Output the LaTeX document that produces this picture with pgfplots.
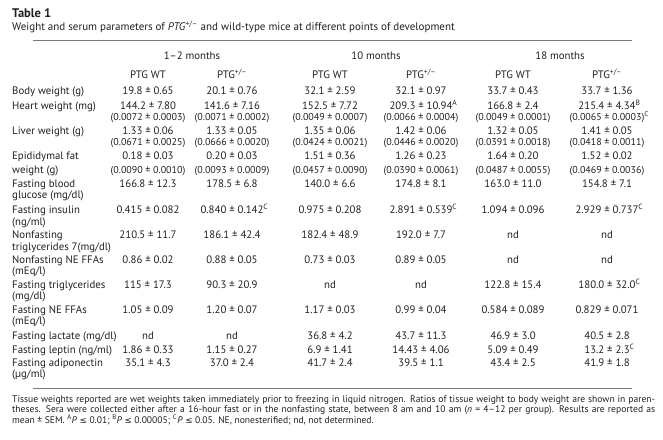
\documentclass[border=0pt]{standalone}
\usepackage{pgfplots}
\pgfplotsset{compat=1.18}
\usepackage{fontspec}
\setmainfont{PT Sans}
\newfontfamily\symf{DejaVu Sans}
\definecolor{txt}{HTML}{231F20}
\definecolor{rule}{HTML}{7A7A7A}
\newcommand\sym[1]{{\symf\fontsize{8.6}{9}\selectfont #1}}
\newcommand\supm[1]{\rlap{\textsuperscript{#1}}}
\newcommand\lab[2]{\node[anchor=mid west] at (axis cs:12,#1) {#2};}
\newcommand\row[7]{%
  \node[anchor=mid] at (axis cs:148,#1) {#2};
  \node[anchor=mid] at (axis cs:232,#1) {#3};
  \node[anchor=mid] at (axis cs:330,#1) {#4};
  \node[anchor=mid] at (axis cs:421,#1) {#5};
  \node[anchor=mid] at (axis cs:513,#1) {#6};
  \node[anchor=mid] at (axis cs:607,#1) {#7};}
\newcommand\prow[7]{%
  \node[anchor=mid,font=\fontsize{10}{11}\selectfont] at (axis cs:148,#1) {#2};
  \node[anchor=mid,font=\fontsize{10}{11}\selectfont] at (axis cs:232,#1) {#3};
  \node[anchor=mid,font=\fontsize{10}{11}\selectfont] at (axis cs:330,#1) {#4};
  \node[anchor=mid,font=\fontsize{10}{11}\selectfont] at (axis cs:421,#1) {#5};
  \node[anchor=mid,font=\fontsize{10}{11}\selectfont] at (axis cs:513,#1) {#6};
  \node[anchor=mid,font=\fontsize{10}{11}\selectfont] at (axis cs:607,#1) {#7};}
\begin{document}
\begin{tikzpicture}[every node/.style={inner sep=0pt,text=txt,font=\fontsize{10.8}{11}\selectfont}]
\begin{axis}[width=663pt,height=439pt,scale only axis,xmin=0,xmax=663,ymin=0,ymax=439,
  y dir=reverse,hide axis,clip=false]
\path (axis cs:0,0) rectangle (axis cs:663,439);
\node[anchor=mid west,font=\fontsize{12.5}{13}\selectfont\bfseries] at (axis cs:12,15) {Table 1};
\node[anchor=mid west,font=\fontsize{11}{12}\selectfont] at (axis cs:12,28) {Weight and serum parameters of \textit{PTG}\textsuperscript{+/–} and wild-type mice at different points of development};
\draw[rule,line width=1pt] (axis cs:33,40) -- (axis cs:632,40);
\draw[rule,line width=1pt] (axis cs:33,388) -- (axis cs:632,388);
% headers
\node[anchor=mid] at (axis cs:192,57) {1–2 months};
\node[anchor=mid] at (axis cs:376,57) {10 months};
\node[anchor=mid] at (axis cs:560,57) {18 months};
\row{76}{PTG WT}{PTG\textsuperscript{+/–}}{PTG WT}{PTG\textsuperscript{+/–}}{PTG WT}{PTG\textsuperscript{+/–}}
% rows
\lab{92}{Body weight (g)}
\row{92}{19.8 ± 0.65}{20.1 ± 0.76}{32.1 ± 2.59}{32.1 ± 0.97}{33.7 ± 0.43}{33.7 ± 1.36}
\lab{107}{Heart weight (mg)}
\row{107}{144.2 ± 7.80}{141.6 ± 7.16}{152.5 ± 7.72}{209.3 ± 10.94\supm{A}}{166.8 ± 2.4}{215.4 ± 4.34\supm{B}}
\prow{118}{(0.0072 ± 0.0003)}{(0.0071 ± 0.0002)}{(0.0049 ± 0.0007)}{(0.0066 ± 0.0004)}{(0.0049 ± 0.0001)}{(0.0065 ± 0.0003)\supm{C}}
\lab{132}{Liver weight (g)}
\row{132}{1.33 ± 0.06}{1.33 ± 0.05}{1.35 ± 0.06}{1.42 ± 0.06}{1.32 ± 0.05}{1.41 ± 0.05}
\prow{143}{(0.0671 ± 0.0025)}{(0.0666 ± 0.0020)}{(0.0424 ± 0.0021)}{(0.0446 ± 0.0020)}{(0.0391 ± 0.0018)}{(0.0418 ± 0.0011)}
\lab{157}{Epididymal fat}
\lab{171}{weight (g)}
\row{157}{0.18 ± 0.03}{0.20 ± 0.03}{1.51 ± 0.36}{1.26 ± 0.23}{1.64 ± 0.20}{1.52 ± 0.02}
\prow{171}{(0.0090 ± 0.0010)}{(0.0093 ± 0.0009)}{(0.0457 ± 0.0090)}{(0.0390 ± 0.0061)}{(0.0487 ± 0.0055)}{(0.0469 ± 0.0036)}
\lab{184.5}{Fasting blood}
\lab{196}{glucose (mg/dl)}
\row{184.5}{166.8 ± 12.3}{178.5 ± 6.8}{140.0 ± 6.6}{174.8 ± 8.1}{163.0 ± 11.0}{154.8 ± 7.1}
\lab{211}{Fasting insulin}
\lab{222.5}{(ng/ml)}
\row{211}{0.415 ± 0.082}{0.840 ± 0.142\supm{C}}{0.975 ± 0.208}{2.891 ± 0.539\supm{C}}{1.094 ± 0.096}{2.929 ± 0.737\supm{C}}
\lab{236}{Nonfasting}
\lab{247.5}{triglycerides 7(mg/dl)}
\row{236}{210.5 ± 11.7}{186.1 ± 42.4}{182.4 ± 48.9}{192.0 ± 7.7}{nd}{nd}
\lab{260.5}{Nonfasting NE FFAs}
\lab{271.5}{(mEq/l)}
\row{260.5}{0.86 ± 0.02}{0.88 ± 0.05}{0.73 ± 0.03}{0.89 ± 0.05}{nd}{nd}
\lab{286}{Fasting triglycerides}
\lab{297}{(mg/dl)}
\row{286}{115 ± 17.3}{90.3 ± 20.9}{nd}{nd}{122.8 ± 15.4}{180.0 ± 32.0\supm{C}}
\lab{311}{Fasting NE FFAs}
\lab{322}{(mEq/l)}
\row{311}{1.05 ± 0.09}{1.20 ± 0.07}{1.17 ± 0.03}{0.99 ± 0.04}{0.584 ± 0.089}{0.829 ± 0.071}
\lab{337}{Fasting lactate (mg/dl)}
\row{337}{nd}{nd}{36.8 ± 4.2}{43.7 ± 11.3}{46.9 ± 3.0}{40.5 ± 2.8}
\lab{350.5}{Fasting leptin (ng/ml)}
\row{350.5}{1.86 ± 0.33}{1.15 ± 0.27}{6.9 ± 1.41}{14.43 ± 4.06}{5.09 ± 0.49}{13.2 ± 2.3\supm{C}}
\lab{364}{Fasting adiponectin}
\lab{375}{(µg/ml)}
\row{364}{35.1 ± 4.3}{37.0 ± 2.4}{41.7 ± 2.4}{39.5 ± 1.1}{43.4 ± 2.5}{41.9 ± 1.8}
% footnote
\node[anchor=mid west,font=\fontsize{9.6}{10}\selectfont] at (axis cs:12,399.5) {\makebox[643pt][s]{Tissue weights reported are wet weights taken immediately prior to freezing in liquid nitrogen. Ratios of tissue weight to body weight are shown in paren-}};
\node[anchor=mid west,font=\fontsize{9.6}{10}\selectfont] at (axis cs:12,410) {\makebox[643pt][s]{theses. Sera were collected either after a 16-hour fast or in the nonfasting state, between 8 am and 10 am (\textit{n} = 4–12 per group). Results are reported as}};
\node[anchor=mid west,font=\fontsize{9.6}{10}\selectfont] at (axis cs:12,420.5) {mean ± SEM. \textsuperscript{A}\textit{P} \sym{≤} 0.01; \textsuperscript{B}\textit{P} \sym{≤} 0.00005; \textsuperscript{C}\textit{P} \sym{≤} 0.05. NE, nonesterified; nd, not determined.};
\end{axis}
\end{tikzpicture}
\end{document}
